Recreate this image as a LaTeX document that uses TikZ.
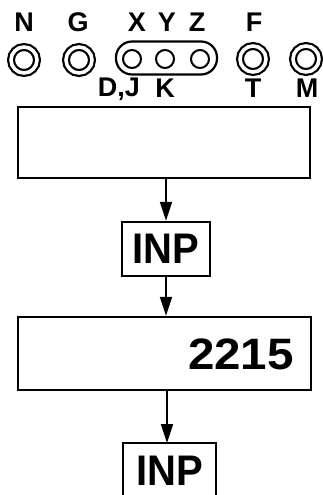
\documentclass[tikz,border=0pt]{standalone}
\usepackage{fontspec}
\setmainfont{Liberation Sans}
\usetikzlibrary{arrows.meta}
\begin{document}
\begin{tikzpicture}[x=1pt,y=-1pt,
  lbl/.style={font=\fontsize{27}{27}\selectfont\bfseries, inner sep=0pt},
  ring/.style={circle, draw, double, line width=2.2pt, double distance=3.6pt, minimum size=26pt, inner sep=0pt},
  dot/.style={circle, draw, line width=2pt, minimum size=18pt, inner sep=0pt},
  bigbox/.style={rectangle, draw, line width=2.4pt, inner sep=0pt},
  inpbox/.style={rectangle, draw, line width=2.4pt, inner sep=0pt},
  bigtxt/.style={font=\fontsize{40}{40}\selectfont\bfseries, inner sep=0pt},
  arr/.style={line width=2pt, -{Triangle[length=19pt,width=12pt]}}]
\useasboundingbox (0,0) rectangle (322,495);
% top labels
\node[lbl] (lN) at (24,22) {N};
\node[lbl] (lG) at (78,22) {G};
\node[lbl] (lX) at (137,22) {X};
\node[lbl] (lY) at (167,22) {Y};
\node[lbl] (lZ) at (197,22) {Z};
\node[lbl] (lF) at (254,22) {F};
% rings
\node[ring] (cN) at (24,60) {};
\node[ring] (cG) at (79,60) {};
\node[ring] (cF) at (253,59) {};
\node[ring] (cM) at (306,59) {};
% XYZ group
\node[rectangle, rounded corners=16pt, draw, line width=2.2pt, minimum width=101pt, minimum height=33pt, inner sep=0pt] (grp) at (166.5,58) {};
\node[dot] (cX) at (132,59) {};
\node[dot] (cY) at (165,59) {};
\node[dot] (cZ) at (200,59) {};
% bottom labels
\node[lbl] (lDJ) at (119,89) {D,J};
\node[lbl] (lK) at (165,88) {K};
\node[lbl] (lT) at (253,88) {T};
\node[lbl] (lM) at (307,88) {M};
% boxes
\node[bigbox, minimum width=292pt, minimum height=71pt] (box1) at (164,142.5) {};
\node[inpbox, minimum width=88pt, minimum height=54pt] (inp1) at (166,249) {};
\node[bigtxt] (t1) at (inp1.center) {\scalebox{1}[1.07]{INP}};
\node[bigbox, minimum width=293pt, minimum height=73pt] (box2) at (164.5,353.5) {};
\node[font=\fontsize{44}{44}\selectfont\bfseries, anchor=east, inner sep=0pt] (num) at (294,354) {\scalebox{1.08}[1]{2215}};
\node[inpbox, minimum width=93pt, minimum height=70pt] (inp2) at (169.5,478) {};
\node[bigtxt] (t2) at (169.5,471) {\scalebox{1}[1.07]{INP}};
% connectors
\draw[arr] (box1.south -| inp1.north) -- (inp1.north);
\draw[arr] (inp1.south) -- (inp1.south |- box2.north);
\draw[arr] (box2.south -| 167,0) -- (167,443);
\end{tikzpicture}
\end{document}
